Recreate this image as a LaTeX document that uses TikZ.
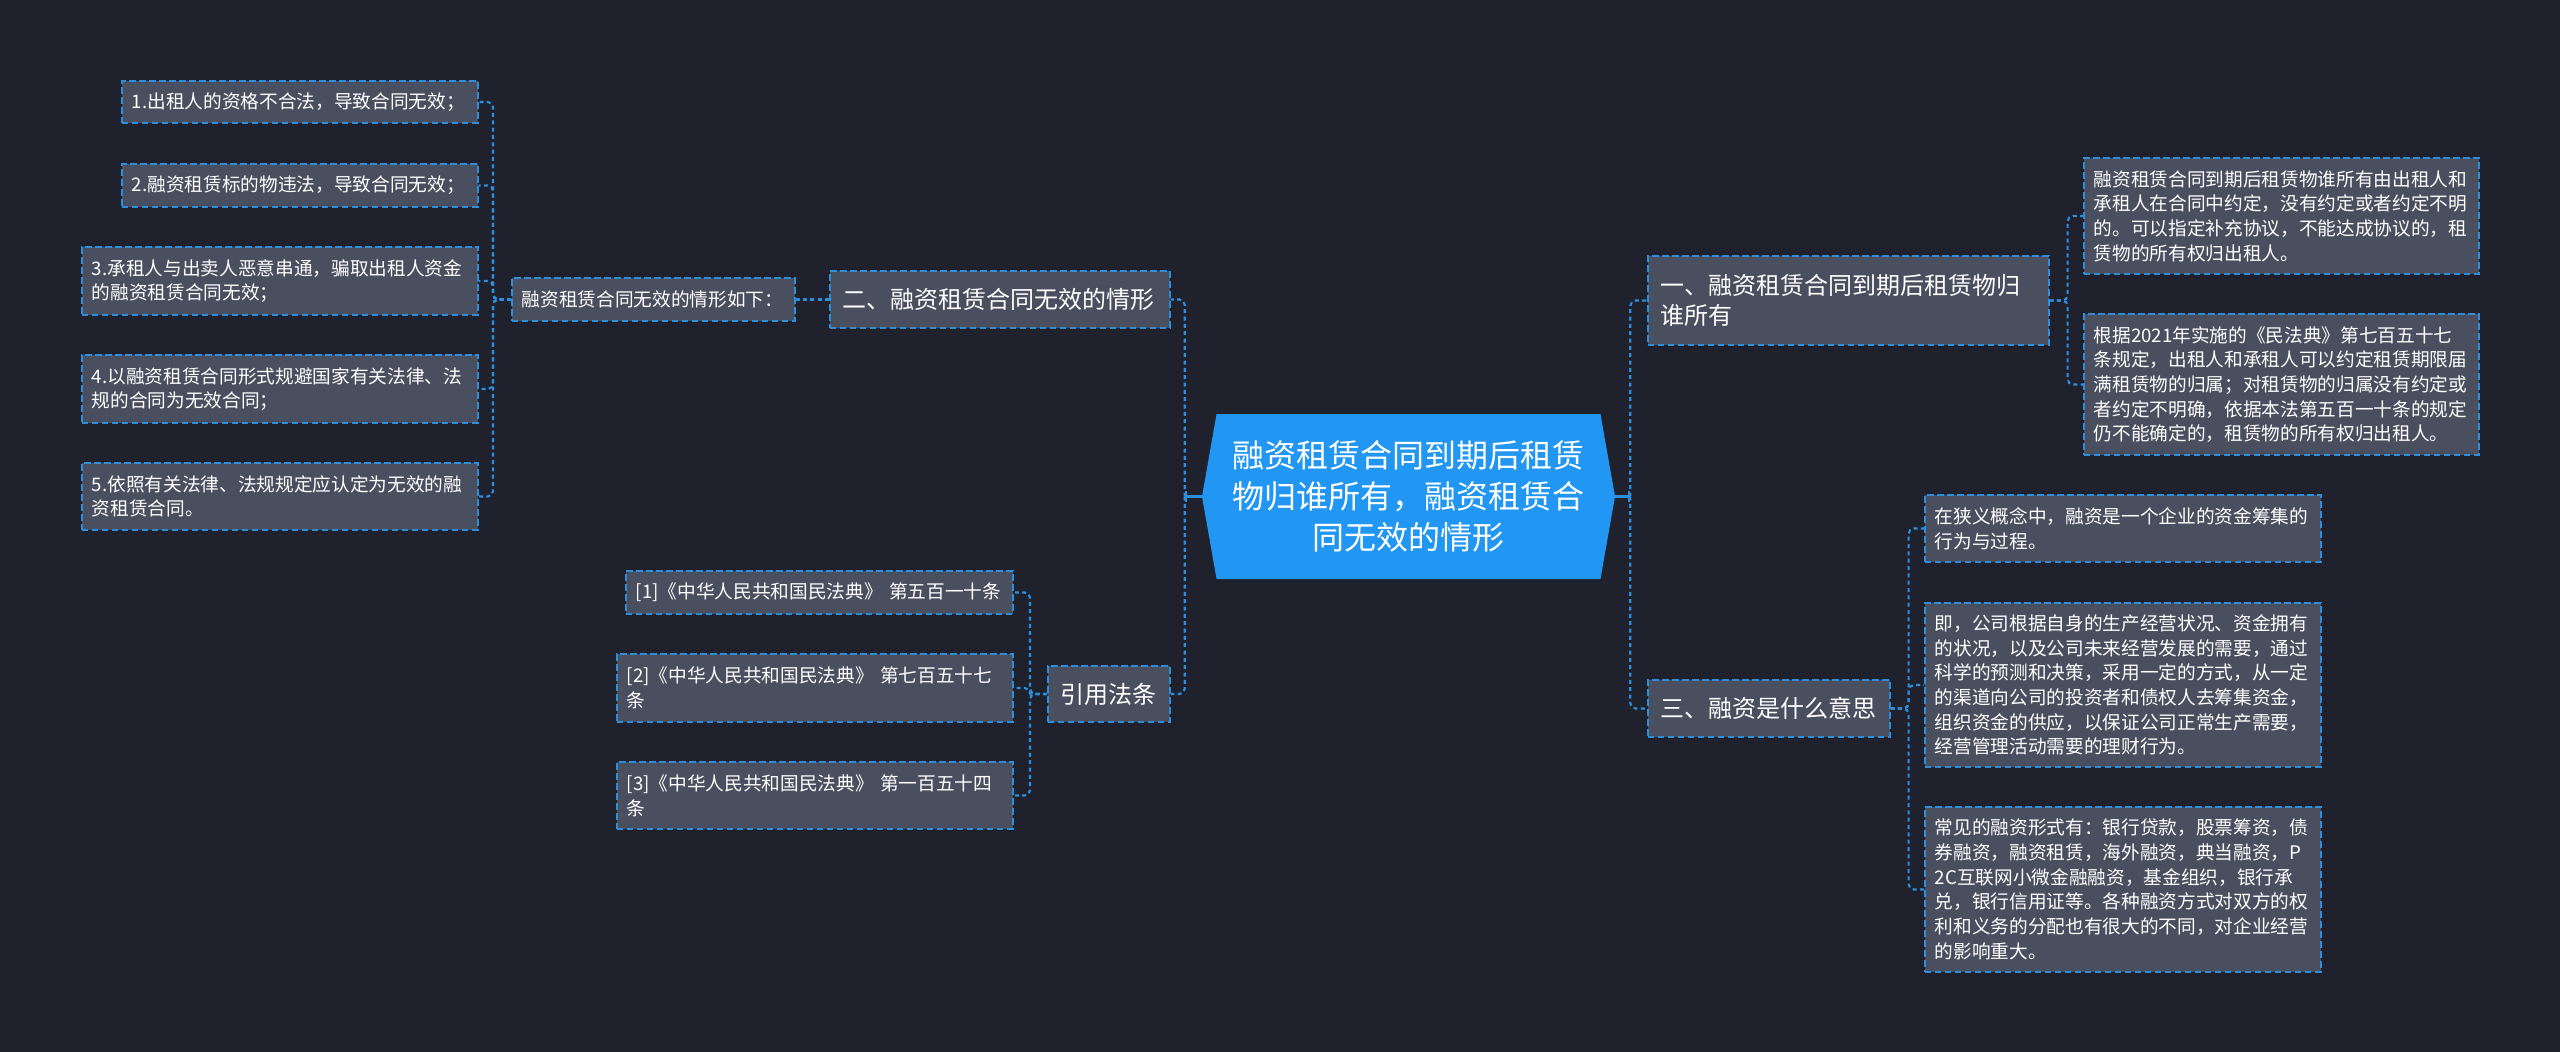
\documentclass[tikz,border=0pt]{standalone}
\usepackage{fontspec}
\setmainfont{Noto Sans CJK SC}
\usetikzlibrary{shapes.symbols,arrows.meta}

\begin{document}
\begin{tikzpicture}[x=0.75pt,y=-0.75pt,
  leaf/.style={draw=mapblue, line width=1.2pt, dash pattern=on 5pt off 2.5pt,
    fill=boxgray, text=white, anchor=west, align=left, inner xsep=7.5pt,
    font=\fontsize{14}{18.5}\selectfont},
  branch/.style={leaf, inner xsep=9.75pt, font=\fontsize{18}{22.5}\selectfont},
  conn/.style={draw=mapblue, line width=1.6pt, dash pattern=on 3pt off 2.5pt,
    rounded corners=4pt},
  rootstub/.style={draw=mapblue, line width=1.6pt, -{Bar[width=8pt]}}]

% Dark theme colours
\definecolor{bgdark}{RGB}{31,34,45}
\definecolor{boxgray}{RGB}{73,79,95}
\definecolor{mapblue}{RGB}{44,143,222}
\definecolor{rootblue}{RGB}{33,150,243}

% Canvas
\fill[bgdark] (0,0) rectangle (2560,1052);
\useasboundingbox (0,0) rectangle (2560,1052);

% Central topic
\node[signal, signal to=east and west, signal pointer angle=160,
  fill=rootblue, text=white, align=center, inner sep=0pt,
  minimum width=309.75pt, minimum height=123.75pt,
  font=\fontsize{24}{31}\selectfont] (root) at (1408.5,496.5)
  {融资租赁合同到期后租赁\\物归谁所有，融资租赁合\\同无效的情形};

% Left side: invalid contracts
\node[branch, text width=235.5pt, minimum height=42.75pt] (two) at (829,299.5)
  {二、融资租赁合同无效的情形};
\node[leaf, text width=197.25pt, minimum height=32.25pt] (cases) at (511,299.5)
  {融资租赁合同无效的情形如下：};
\node[leaf, text width=252pt, minimum height=31.5pt] (c1) at (121,102)
  {1.出租人的资格不合法，导致合同无效；};
\node[leaf, text width=252pt, minimum height=32.25pt] (c2) at (121,185.5)
  {2.融资租赁标的物违法，导致合同无效；};
\node[leaf, text width=282pt, minimum height=51pt] (c3) at (81,281)
  {3.承租人与出卖人恶意串通，骗取出租人资金\\的融资租赁合同无效；};
\node[leaf, text width=282pt, minimum height=51pt] (c4) at (81,389)
  {4.以融资租赁合同形式规避国家有关法律、法\\规的合同为无效合同；};
\node[leaf, text width=282pt, minimum height=50.25pt] (c5) at (81,496.5)
  {5.依照有关法律、法规规定应认定为无效的融\\资租赁合同。};

% Left side: cited articles
\node[branch, text width=72pt, minimum height=42pt] (cite) at (1047,694)
  {引用法条};
\node[leaf, text width=275.25pt, minimum height=32.25pt] (r1) at (625,592.5)
  {[1]《中华人民共和国民法典》 第五百一十条};
\node[leaf, text width=282pt, minimum height=51pt] (r2) at (616,688)
  {[2]《中华人民共和国民法典》 第七百五十七\\条};
\node[leaf, text width=282pt, minimum height=50.25pt] (r3) at (616,795.5)
  {[3]《中华人民共和国民法典》 第一百五十四\\条};

% Right side: ownership after the lease
\node[branch, text width=281.25pt, minimum height=66.75pt] (one) at (1647,300.5)
  {一、融资租赁合同到期后租赁物归\\谁所有};
\node[leaf, text width=281.25pt, minimum height=87pt] (o1) at (2083,216)
  {融资租赁合同到期后租赁物谁所有由出租人和\\承租人在合同中约定，没有约定或者约定不明\\的。可以指定补充协议，不能达成协议的，租\\赁物的所有权归出租人。};
\node[leaf, text width=281.25pt, minimum height=105.75pt] (o2) at (2083,384.5)
  {根据2021年实施的《民法典》第七百五十七\\条规定，出租人和承租人可以约定租赁期限届\\满租赁物的归属；对租赁物的归属没有约定或\\者约定不明确，依据本法第五百一十条的规定\\仍不能确定的，租赁物的所有权归出租人。};

% Right side: what financing means
\node[branch, text width=162pt, minimum height=42.75pt] (three) at (1647,708.5)
  {三、融资是什么意思};
\node[leaf, text width=282pt, minimum height=50.25pt] (f1) at (1924,528.5)
  {在狭义概念中，融资是一个企业的资金筹集的\\行为与过程。};
\node[leaf, text width=282pt, minimum height=123pt] (f2) at (1924,685)
  {即，公司根据自身的生产经营状况、资金拥有\\的状况，以及公司未来经营发展的需要，通过\\科学的预测和决策，采用一定的方式，从一定\\的渠道向公司的投资者和债权人去筹集资金，\\组织资金的供应，以保证公司正常生产需要，\\经营管理活动需要的理财行为。};
\node[leaf, text width=282pt, minimum height=123.75pt] (f3) at (1924,889.5)
  {常见的融资形式有：银行贷款，股票筹资，债\\券融资，融资租赁，海外融资，典当融资，P\\2C互联网小微金融融资，基金组织，银行承\\兑，银行信用证等。各种融资方式对双方的权\\利和义务的分配也有很大的不同，对企业经营\\的影响重大。};

% Connectors
\draw[rootstub] (root.west) -- ++(-17,0);
\draw[rootstub] (root.east) -- ++(15,0);
\foreach \c in {two,cite}
  \draw[conn] (root.west) ++(-17,0) |- (\c.east);
\foreach \c in {one,three}
  \draw[conn] (root.east) ++(15,0) |- (\c.west);
\draw[conn] (two.west) -- (cases.east);
\foreach \c in {c1,c2,c3,c4,c5}
  \draw[conn] (cases.west) -- ++(-18,0) |- (\c.east);
\foreach \c in {r1,r2,r3}
  \draw[conn] (cite.west) -- ++(-17,0) |- (\c.east);
\foreach \c in {o1,o2}
  \draw[conn] (one.east) -- ++(18,0) |- (\c.west);
\foreach \c in {f1,f2,f3}
  \draw[conn] (three.east) -- ++(18,0) |- (\c.west);

\end{tikzpicture}
\end{document}
